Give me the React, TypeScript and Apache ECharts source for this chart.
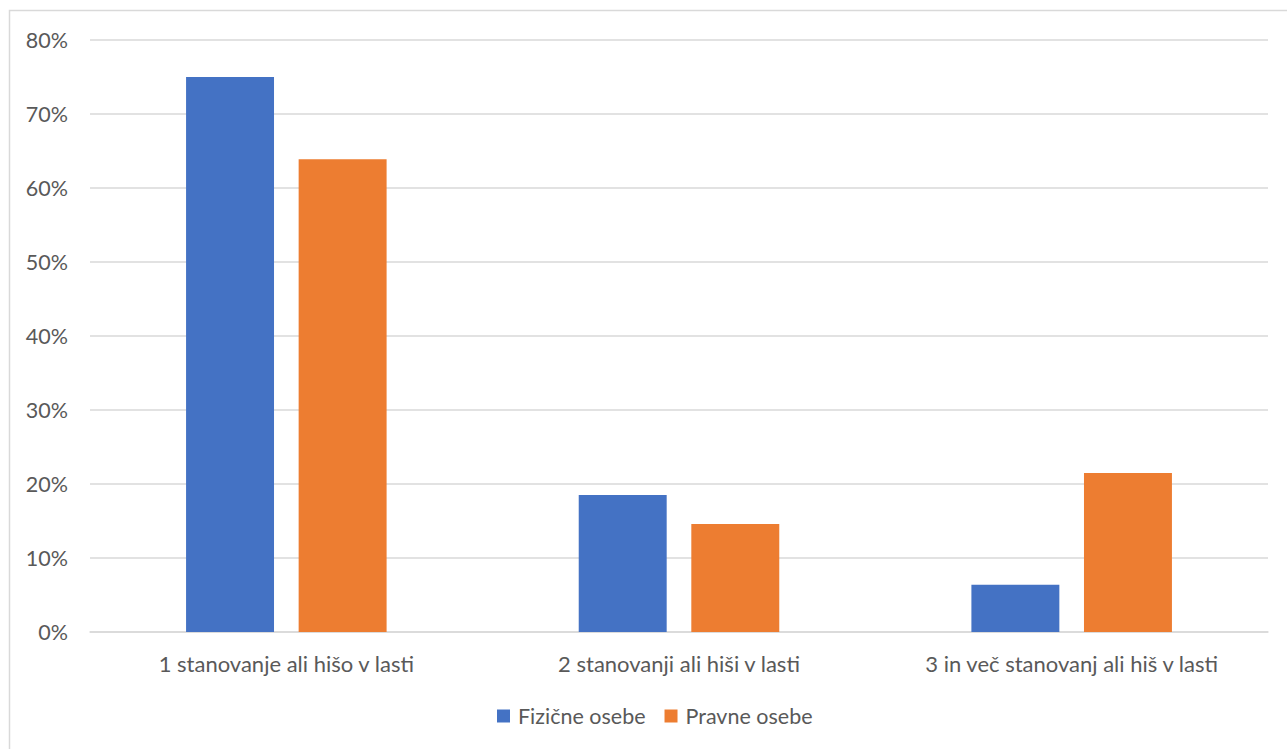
import React, { useEffect, useRef } from "react";
import * as echarts from "echarts";

const categories = [
  "1 stanovanje ali hišo v lasti",
  "2 stanovanji ali hiši v lasti",
  "3 in več stanovanj ali hiš v lasti",
];
const seriesNames = ["Fizične osebe", "Pravne osebe"];
const fizicne = [75.0, 18.5, 6.4];
const pravne = [63.9, 14.6, 21.5];
const colors = ["#4472C4", "#ED7D31"];

export default function App() {
  const ref = useRef<HTMLDivElement>(null);
  useEffect(() => {
    if (!ref.current) return;
    const chart = echarts.init(ref.current, undefined, { renderer: "svg" });
    const font = "Lato, 'Open Sans', sans-serif";
    chart.setOption({
      animation: false,
      textStyle: { fontFamily: font },
      graphic: [
        {
          type: "rect",
          shape: { x: 9.5, y: 10.5, width: 1400, height: 900 },
          style: { fill: "none", stroke: "#d9d9d9", lineWidth: 1.5 },
          silent: true,
        },
      ],
      grid: { left: 90, right: 19, top: 40, bottom: 117 },
      legend: {
        bottom: 17,
        left: 492,
        itemWidth: 13,
        itemHeight: 13,
        itemGap: 19,
        icon: "rect",
        textStyle: { color: "#595959", fontSize: 21.5, fontFamily: font, padding: [0, 0, 0, 3] },
        data: seriesNames,
      },
      xAxis: {
        type: "category",
        data: categories,
        axisLine: { lineStyle: { color: "#d9d9d9", width: 1.5 } },
        axisTick: { show: false },
        axisLabel: { color: "#595959", fontSize: 22, margin: 20, fontFamily: font },
      },
      yAxis: {
        type: "value",
        min: 0,
        max: 80,
        interval: 10,
        axisLine: { show: false },
        axisTick: { show: false },
        splitLine: { lineStyle: { color: "#d9d9d9", width: 1.5 } },
        axisLabel: {
          color: "#595959",
          fontSize: 21.5,
          margin: 22,
          fontFamily: font,
          formatter: "{value}%",
        },
      },
      series: [
        {
          name: seriesNames[0],
          type: "bar",
          data: fizicne,
          barWidth: "22.4%",
          barGap: "28%",
          itemStyle: { color: colors[0] },
        },
        {
          name: seriesNames[1],
          type: "bar",
          data: pravne,
          barWidth: "22.4%",
          barGap: "28%",
          itemStyle: { color: colors[1] },
        },
      ],
    });
    return () => chart.dispose();
  }, []);
  return (
    <div
      ref={ref}
      style={{ position: "fixed", left: 0, top: 0, width: 1287, height: 749, background: "#fff" }}
    />
  );
}
